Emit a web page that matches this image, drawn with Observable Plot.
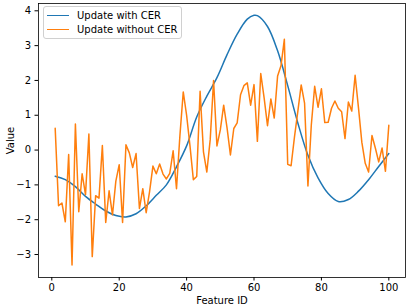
<!DOCTYPE html>
<html>
<head>
<meta charset="utf-8">
<script src="https://cdn.jsdelivr.net/npm/d3@7"></script>
<script src="https://cdn.jsdelivr.net/npm/@observablehq/plot@0.6"></script>
<style>
  body { margin: 0; background: #fff; }
  #wrap { position: relative; width: 407px; height: 307px; font-family: "DejaVu Sans", sans-serif; }
  .legend { position: absolute; left: 43px; top: 6px; width: 139px; height: 33px; border: 1px solid #d0d0d0; border-radius: 3px; background: rgba(255,255,255,0.8); font-size: 10px; color: #000; box-sizing: border-box; }
  .row { position: absolute; left: 0; height: 12px; line-height: 12px; white-space: nowrap; }
  .swatch { position: absolute; left: 3px; top: 5px; width: 22px; height: 0; border-top: 1.5px solid; }
  .lab { position: absolute; left: 33px; top: 0; }
</style>
</head>
<body>
<div id="wrap"></div>
<script>
const seriesNames = ["Update with CER", "Update without CER"];
const seriesColors = ["#1f77b4", "#ff7f0e"];

const featureIds = d3.range(1, 101);
const withoutCER = [
  0.63, -1.60, -1.52, -2.06, -0.13, -3.30, 0.75, -1.77, -0.68, -1.28,
  0.46, -3.06, -1.31, -1.38, 0.13, -2.08, -1.17, -1.86, -0.89, -0.42,
  -2.08, 0.15, -0.08, -0.50, -0.10, -1.68, -1.11, -1.80, -1.20, -0.46,
  -0.68, -0.40, -0.69, -0.83, -0.67, -0.02, -1.11, 0.40, 1.67, 1.00,
  0.12, -0.85, -0.76, 1.69, -0.05, -0.63, 0.30, 2.00, 0.12, 0.58,
  1.29, 0.64, -0.14, 0.62, 0.78, 1.59, 1.85, 1.93, 1.29, 1.88,
  0.25, 2.20, 1.50, 0.70, 1.47, 0.92, 2.13, 2.42, 3.18, -0.41,
  -0.45, 0.37, 1.11, 1.87, 1.35, -1.03, 0.72, 1.83, 1.23, 1.76,
  0.79, 0.80, 1.20, 1.41, 1.20, 1.10, 0.33, 1.38, 1.12, 2.15,
  1.21, 0.22, -0.38, -0.63, 0.42, 0.06, -0.34, 0.06, -0.61, 0.71
];

const withCERx = [1, 4, 7, 10, 13, 16, 19, 22, 25, 28, 31, 34, 37, 40, 43, 46, 49, 52, 55, 58, 60, 61, 64, 67, 70, 73, 76, 79, 82, 85, 88, 91, 94, 97, 100];
const withCERy = [-0.75, -0.85, -1.05, -1.33, -1.55, -1.75, -1.88, -1.92, -1.83, -1.60, -1.30, -1.00, -0.48, 0.12, 0.95, 1.55, 2.08, 2.74, 3.33, 3.76, 3.87, 3.86, 3.55, 2.85, 1.85, 0.78, -0.15, -0.80, -1.25, -1.48, -1.42, -1.18, -0.85, -0.47, -0.10];

const xTicks = [0, 20, 40, 60, 80, 100];
const yTicks = [-3, -2, -1, 0, 1, 2, 3, 4];

const blue = withCERx.map((x, i) => ({x, y: withCERy[i]}));
const orange = featureIds.map((x, i) => ({x, y: withoutCER[i]}));

const chart = Plot.plot({
  width: 407,
  height: 307,
  marginLeft: 38,
  marginRight: 2,
  marginTop: 3,
  marginBottom: 30,
  style: {fontFamily: "DejaVu Sans, sans-serif", fontSize: "10px", background: "#fff", color: "#000"},
  x: {domain: [-3.95, 104.95]},
  y: {domain: [-3.66, 4.21]},
  marks: [
    Plot.axisX({ticks: xTicks, tickSize: 3.5, tickPadding: 3, label: "Feature ID", labelAnchor: "center", labelArrow: "none", labelOffset: 26, fontSize: 10}),
    Plot.axisY({ticks: yTicks, tickSize: 3.5, tickPadding: 4, label: "Value", labelAnchor: "center", labelArrow: "none", labelOffset: 32, fontSize: 10}),
    Plot.line(blue, {x: "x", y: "y", stroke: seriesColors[0], strokeWidth: 1.5, curve: "catmull-rom"}),
    Plot.line(orange, {x: "x", y: "y", stroke: seriesColors[1], strokeWidth: 1.5}),
    Plot.frame({stroke: "#000", strokeWidth: 0.8})
  ]
});

const wrap = document.getElementById("wrap");
wrap.appendChild(chart);

const legend = document.createElement("div");
legend.className = "legend";
seriesNames.forEach((name, i) => {
  const row = document.createElement("div");
  row.className = "row";
  row.style.top = (2.5 + i * 14.5) + "px";
  const sw = document.createElement("div");
  sw.className = "swatch";
  sw.style.borderTopColor = seriesColors[i];
  const lab = document.createElement("span");
  lab.className = "lab";
  lab.textContent = name;
  row.appendChild(sw);
  row.appendChild(lab);
  legend.appendChild(row);
});
wrap.appendChild(legend);
</script>
</body>
</html>
